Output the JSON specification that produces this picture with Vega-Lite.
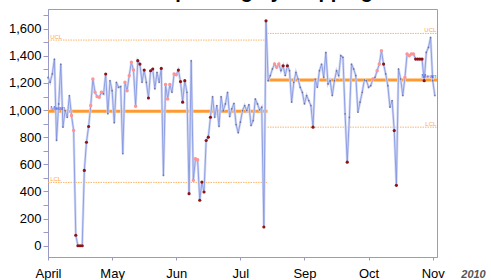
{
  "$schema": "https://vega.github.io/schema/vega-lite/v6.json",
  "width": 389,
  "height": 248,
  "autosize": {"type": "none"},
  "padding": {"left": 48, "top": 9, "right": 54, "bottom": 23},
  "background": "white",
  "config": {
    "font": "Liberation Sans",
    "view": {"stroke": "#9a9ac6", "strokeWidth": 1},
    "axis": {"grid": false, "domainColor": "#9a9ac6", "tickColor": "#9a9ac6", "labelColor": "#000000", "labelFontSize": 13, "labelFont": "Liberation Sans"}
  },
  "title": {"text": "Spending by Shipping", "fontSize": 20, "font": "Liberation Sans", "fontWeight": "bold", "color": "#000000", "baseline": "bottom", "offset": 0, "dy": 12.5, "dx": 25},
  "datasets": {
    "obs": [
      {"i":0,"v":1241,"f":"n"},{"i":1,"v":1205,"f":"n"},{"i":2,"v":1266,"f":"n"},{"i":3,"v":1376,"f":"n"},{"i":4,"v":776,"f":"n"},
      {"i":5,"v":1045,"f":"n"},{"i":6,"v":1339,"f":"n"},{"i":7,"v":874,"f":"n"},{"i":8,"v":996,"f":"n"},{"i":9,"v":947,"f":"n"},
      {"i":10,"v":1107,"f":"n"},{"i":11,"v":960,"f":"w"},{"i":12,"v":849,"f":"w"},{"i":13,"v":77,"f":"o"},{"i":14,"v":0,"f":"o"},
      {"i":15,"v":0,"f":"o"},{"i":16,"v":0,"f":"o"},{"i":17,"v":555,"f":"o"},{"i":18,"v":763,"f":"o"},{"i":19,"v":879,"f":"o"},
      {"i":20,"v":1033,"f":"w"},{"i":21,"v":1229,"f":"w"},{"i":22,"v":1131,"f":"w"},{"i":23,"v":1099,"f":"w"},{"i":24,"v":1094,"f":"w"},
      {"i":25,"v":1131,"f":"w"},{"i":26,"v":1119,"f":"n"},{"i":27,"v":1266,"f":"o"},{"i":28,"v":972,"f":"n"},{"i":29,"v":1217,"f":"n"},
      {"i":30,"v":1143,"f":"n"},{"i":31,"v":906,"f":"n"},{"i":32,"v":1205,"f":"n"},{"i":33,"v":1168,"f":"n"},{"i":34,"v":1173,"f":"n"},
      {"i":35,"v":678,"f":"n"},{"i":36,"v":1205,"f":"w"},{"i":37,"v":1143,"f":"w"},{"i":38,"v":1254,"f":"w"},{"i":39,"v":1352,"f":"w"},
      {"i":40,"v":1295,"f":"w"},{"i":41,"v":1028,"f":"w"},{"i":42,"v":1364,"f":"o"},{"i":43,"v":1339,"f":"o"},{"i":44,"v":1205,"f":"n"},
      {"i":45,"v":1295,"f":"o"},{"i":46,"v":1205,"f":"n"},{"i":47,"v":1089,"f":"o"},{"i":48,"v":1290,"f":"o"},{"i":49,"v":1303,"f":"o"},
      {"i":50,"v":1156,"f":"n"},{"i":51,"v":1278,"f":"n"},{"i":52,"v":1205,"f":"n"},{"i":53,"v":1307,"f":"o"},{"i":54,"v":518,"f":"n"},
      {"i":55,"v":1188,"f":"w"},{"i":56,"v":1082,"f":"w"},{"i":57,"v":1188,"f":"w"},{"i":58,"v":1131,"f":"n"},{"i":59,"v":1266,"f":"w"},
      {"i":60,"v":1261,"f":"w"},{"i":61,"v":1295,"f":"o"},{"i":62,"v":1210,"f":"o"},{"i":63,"v":1058,"f":"o"},{"i":64,"v":1217,"f":"o"},
      {"i":65,"v":1131,"f":"n"},{"i":66,"v":384,"f":"o"},{"i":67,"v":1364,"f":"n"},{"i":68,"v":482,"f":"w"},{"i":69,"v":641,"f":"w"},
      {"i":70,"v":634,"f":"w"},{"i":71,"v":335,"f":"o"},{"i":72,"v":469,"f":"o"},{"i":73,"v":396,"f":"o"},{"i":74,"v":776,"f":"o"},
      {"i":75,"v":800,"f":"o"},{"i":76,"v":947,"f":"o"},{"i":77,"v":1099,"f":"n"},{"i":78,"v":947,"f":"n"},{"i":79,"v":1033,"f":"n"},
      {"i":80,"v":879,"f":"n"},{"i":81,"v":1099,"f":"n"},{"i":82,"v":996,"f":"n"},{"i":83,"v":1045,"f":"n"},{"i":84,"v":1131,"f":"n"},
      {"i":85,"v":952,"f":"n"},{"i":86,"v":1009,"f":"n"},{"i":87,"v":1050,"f":"n"},{"i":88,"v":893,"f":"n"},{"i":89,"v":832,"f":"n"},
      {"i":90,"v":911,"f":"n"},{"i":91,"v":996,"f":"n"},{"i":92,"v":1033,"f":"n"},{"i":93,"v":996,"f":"n"},{"i":94,"v":1040,"f":"n"},
      {"i":95,"v":886,"f":"n"},{"i":96,"v":923,"f":"n"},{"i":97,"v":1082,"f":"n"},{"i":98,"v":1045,"f":"n"},{"i":99,"v":1001,"f":"n"},
      {"i":100,"v":1021,"f":"n"},{"i":101,"v":138,"f":"o"},{"i":102,"v":1658,"f":"o"},
      {"i":103,"v":1217,"f":"n"},{"i":104,"v":1254,"f":"n"},{"i":105,"v":1303,"f":"n"},{"i":106,"v":1339,"f":"w"},{"i":107,"v":1315,"f":"w"},
      {"i":108,"v":1339,"f":"w"},{"i":109,"v":1290,"f":"n"},{"i":110,"v":1327,"f":"o"},{"i":111,"v":1254,"f":"n"},{"i":112,"v":1327,"f":"o"},
      {"i":113,"v":1290,"f":"n"},{"i":114,"v":1058,"f":"n"},{"i":115,"v":1205,"f":"n"},{"i":116,"v":1278,"f":"n"},{"i":117,"v":1229,"f":"n"},
      {"i":118,"v":1168,"f":"n"},{"i":119,"v":1131,"f":"n"},{"i":120,"v":1045,"f":"n"},{"i":121,"v":1107,"f":"n"},{"i":122,"v":1070,"f":"n"},
      {"i":123,"v":1033,"f":"n"},{"i":124,"v":874,"f":"o"},
      {"i":125,"v":1229,"f":"n"},{"i":126,"v":1168,"f":"n"},{"i":127,"v":1290,"f":"n"},{"i":128,"v":1339,"f":"n"},{"i":129,"v":1241,"f":"n"},
      {"i":130,"v":1425,"f":"n"},{"i":131,"v":1192,"f":"n"},{"i":132,"v":1217,"f":"n"},{"i":133,"v":1107,"f":"n"},{"i":134,"v":1217,"f":"n"},
      {"i":135,"v":1290,"f":"n"},{"i":136,"v":1254,"f":"n"},{"i":137,"v":1401,"f":"n"},{"i":138,"v":1389,"f":"n"},{"i":139,"v":972,"f":"n"},
      {"i":140,"v":616,"f":"o"},{"i":141,"v":947,"f":"n"},{"i":142,"v":1339,"f":"n"},{"i":143,"v":1303,"f":"n"},{"i":144,"v":1254,"f":"n"},
      {"i":145,"v":984,"f":"n"},{"i":146,"v":1058,"f":"n"},{"i":147,"v":1131,"f":"n"},{"i":148,"v":1222,"f":"n"},{"i":149,"v":1217,"f":"n"},
      {"i":150,"v":1168,"f":"n"},{"i":151,"v":1180,"f":"n"},{"i":152,"v":1229,"f":"w"},{"i":153,"v":1241,"f":"n"},{"i":154,"v":1290,"f":"w"},
      {"i":155,"v":1339,"f":"w"},{"i":156,"v":1438,"f":"w"},{"i":157,"v":1339,"f":"o"},{"i":158,"v":1266,"f":"n"},{"i":159,"v":1180,"f":"n"},
      {"i":160,"v":1021,"f":"n"},{"i":161,"v":1070,"f":"n"},{"i":162,"v":849,"f":"o"},{"i":163,"v":445,"f":"o"},{"i":164,"v":1303,"f":"n"},
      {"i":165,"v":1229,"f":"n"},{"i":166,"v":1107,"f":"n"},{"i":167,"v":1241,"f":"w"},{"i":168,"v":1413,"f":"w"},{"i":169,"v":1401,"f":"w"},
      {"i":170,"v":1413,"f":"w"},{"i":171,"v":1413,"f":"w"},{"i":172,"v":1376,"f":"o"},{"i":173,"v":1376,"f":"o"},{"i":174,"v":1376,"f":"o"},
      {"i":175,"v":1376,"f":"o"},{"i":176,"v":1217,"f":"o"},{"i":177,"v":1425,"f":"n"},{"i":178,"v":1462,"f":"n"},{"i":179,"v":1535,"f":"n"},
      {"i":180,"v":1217,"f":"n"},{"i":181,"v":1107,"f":"n"}
    ],
    "lim": [
      {"i":0,"i2":102.7,"v":1516,"k":"lim"},
      {"i":0,"i2":102.7,"v":467,"k":"lim"},
      {"i":0,"i2":102.7,"v":991,"k":"ctr"},
      {"i":102.7,"i2":182,"v":1565,"k":"lim"},
      {"i":102.7,"i2":182,"v":874,"k":"lim"},
      {"i":102.7,"i2":182,"v":1222,"k":"ctr"}
    ],
    "lab": [
      {"i":1,"v":1520,"t":"UCL"},
      {"i":1,"v":471,"t":"LCL"},
      {"i":1,"v":995,"t":"Mean"},
      {"i":181.7,"v":1569,"t":"UCL"},
      {"i":181.7,"v":878,"t":"LCL"},
      {"i":181.7,"v":1226,"t":"Mean"}
    ]
  },
  "encoding": {
    "x": {
      "field": "i", "type": "quantitative",
      "scale": {"domain": [0, 182], "nice": false, "zero": false},
      "axis": {
        "values": [0, 30, 60, 90, 120, 150, 180],
        "labelExpr": "['April','May','Jun','Jul','Sep','Oct','Nov'][round(datum.value/30)]",
        "tickSize": 3, "labelPadding": 7, "labelFlush": false,
        "title": "2010", "titleX": 425, "titleY": 20, "titleAlign": "center", "titleBaseline": "alphabetic",
        "titleFontSize": 11, "titleFontWeight": "bold", "titleFontStyle": "italic", "titleColor": "#555555", "titleFont": "Liberation Sans"
      }
    },
    "y": {
      "field": "v", "type": "quantitative",
      "scale": {"domain": [-83, 1745], "nice": false, "zero": false},
      "axis": {
        "values": [0,100,200,300,400,500,600,700,800,900,1000,1100,1200,1300,1400,1500,1600,1700],
        "labelExpr": "datum.value % 200 === 0 ? format(datum.value, ',') : ''",
        "tickSize": 5, "labelPadding": 2, "title": null
      }
    }
  },
  "layer": [
    {
      "data": {"name": "lim"},
      "transform": [{"filter": "datum.k === 'lim'"}],
      "mark": {"type": "rule", "color": "#ffb366", "strokeWidth": 1, "strokeDash": [1.5, 1]},
      "encoding": {"x2": {"field": "i2"}}
    },
    {
      "data": {"name": "lim"},
      "transform": [{"filter": "datum.k === 'ctr'"}],
      "mark": {"type": "rule", "color": "#ff9a33", "strokeWidth": 3},
      "encoding": {"x2": {"field": "i2"}}
    },
    {
      "data": {"name": "obs"},
      "mark": {"type": "line", "color": "#d3d9f5", "strokeWidth": 2.5},
      "encoding": {}
    },
    {
      "data": {"name": "obs"},
      "mark": {"type": "line", "color": "#7d91de", "strokeWidth": 0.8},
      "encoding": {}
    },
    {
      "data": {"name": "obs"},
      "transform": [{"filter": "datum.f === 'n'"}],
      "mark": {"type": "point", "filled": true, "size": 3, "color": "#5a5a7a", "opacity": 0.7},
      "encoding": {}
    },
    {
      "data": {"name": "obs"},
      "transform": [{"filter": "datum.f === 'w'"}],
      "mark": {"type": "point", "filled": true, "size": 12, "color": "#ff9494", "opacity": 1},
      "encoding": {}
    },
    {
      "data": {"name": "obs"},
      "transform": [{"filter": "datum.f === 'o'"}],
      "mark": {"type": "point", "filled": true, "size": 10, "color": "#8e1414", "opacity": 1},
      "encoding": {}
    },
    {
      "data": {"name": "lab"},
      "transform": [{"filter": "datum.i < 50"}],
      "mark": {"type": "text", "align": "left", "baseline": "bottom", "fontSize": 6, "font": "Liberation Sans"},
      "encoding": {
        "text": {"field": "t"},
        "color": {"condition": {"test": "datum.t === 'Mean'", "value": "#3f55d8"}, "value": "#ffa64d"}
      }
    },
    {
      "data": {"name": "lab"},
      "transform": [{"filter": "datum.i > 50"}],
      "mark": {"type": "text", "align": "right", "baseline": "bottom", "fontSize": 6, "font": "Liberation Sans"},
      "encoding": {
        "text": {"field": "t"},
        "color": {"condition": {"test": "datum.t === 'Mean'", "value": "#3f55d8"}, "value": "#ffa64d"}
      }
    }
  ]
}
